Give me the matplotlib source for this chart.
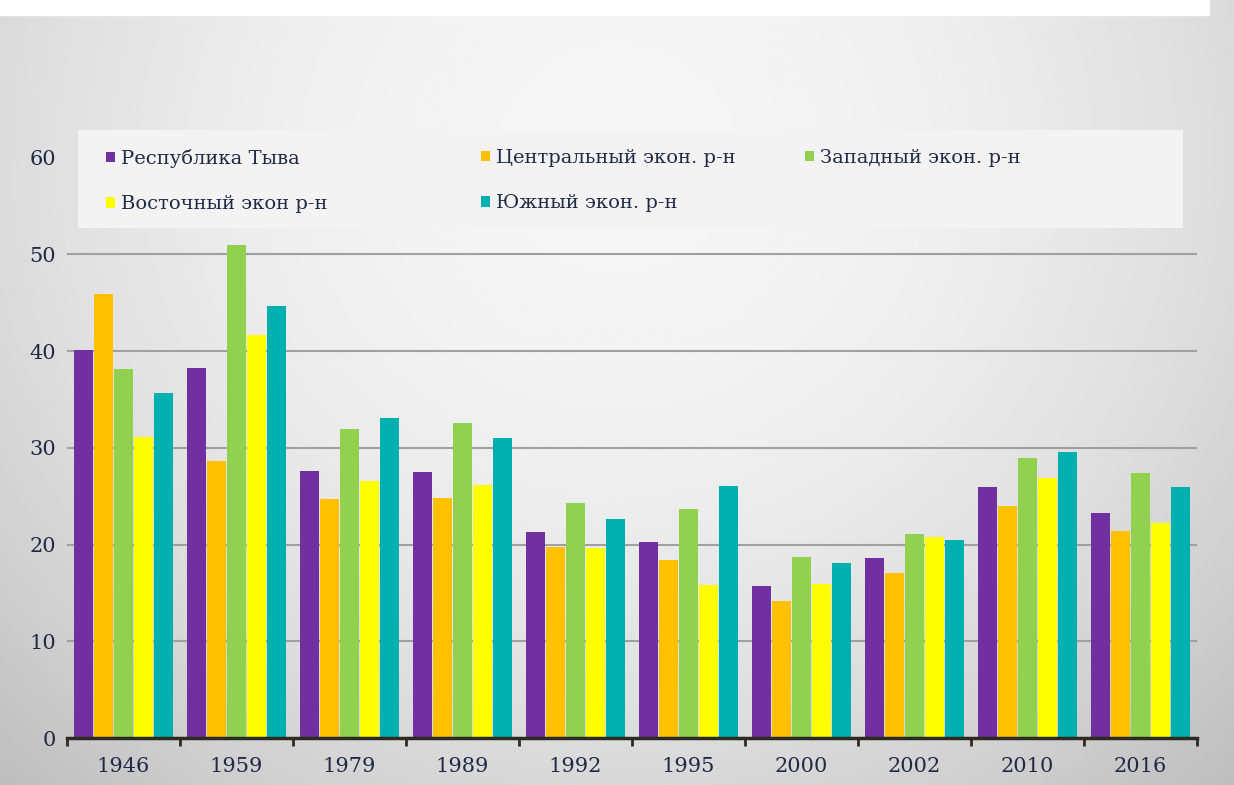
import numpy as np
import matplotlib
matplotlib.use('Agg')
import matplotlib.pyplot as plt
from matplotlib.patches import Rectangle

years = ['1946', '1959', '1979', '1989', '1992', '1995', '2000', '2002', '2010', '2016']
tyva = [40.1, 38.3, 27.6, 27.5, 21.3, 20.3, 15.7, 18.6, 26.0, 23.3]
central = [45.9, 28.6, 24.7, 24.8, 19.8, 18.4, 14.2, 17.1, 24.0, 21.4]
western = [38.2, 51.0, 32.0, 32.6, 24.3, 23.7, 18.7, 21.1, 29.0, 27.4]
eastern = [31.1, 41.7, 26.6, 26.2, 19.6, 15.8, 15.9, 20.8, 26.9, 22.2]
southern = [35.7, 44.7, 33.1, 31.0, 22.6, 26.1, 18.1, 20.5, 29.6, 26.0]

series = [
    ('Республика Тыва', tyva, '#7030A0'),
    ('Центральный экон. р-н', central, '#FFC000'),
    ('Западный экон. р-н', western, '#92D050'),
    ('Восточный экон р-н', eastern, '#FFFF00'),
    ('Южный экон. р-н', southern, '#00B0B0'),
]
y_ticks = [0, 10, 20, 30, 40, 50, 60]
grid_levels = [10, 20, 30, 40, 50]

plt.rcParams['font.family'] = ['DejaVu Serif']
text_color = '#1F2A44'

fig = plt.figure(figsize=(12.34, 7.85), dpi=100)

# radial grey background
bg = fig.add_axes([0, 0, 1, 1], zorder=-5)
yy, xx = np.mgrid[0:1:300j, 0:1:400j]
r2 = ((xx - 0.5) / 0.6) ** 2 + ((yy - 0.2) / 0.9) ** 2
v = np.clip(0.965 - 0.15 * r2, 0, 1)
bg.imshow(v, cmap='gray', vmin=0, vmax=1, aspect='auto', interpolation='bilinear',
          extent=[0, 1, 0, 1], origin='upper')
bg.axis('off')
fig.patches.append(Rectangle((0, 1 - 15 / 785), 0.98, 15 / 785, transform=fig.transFigure,
                             color='white', zorder=-4))

ax = fig.add_axes([67 / 1234, 1 - 738 / 785, 1130 / 1234, 628.6 / 785])
ax.patch.set_alpha(0)

x = np.arange(len(years))
pitch = 0.177
width = 0.164
bars = []
for i, (name, vals, color) in enumerate(series):
    b = ax.bar(x + (i - 2) * pitch, vals, width, color=color, label=name, zorder=3)
    bars.append(b)

ax.hlines(grid_levels, -0.5, len(years) - 0.5, color='#A0A0A0', linewidth=1.5, zorder=1)

ax.set_xlim(-0.5, len(years) - 0.5)
ax.set_ylim(0, 65)
ax.set_yticks(y_ticks)
ax.set_xticks(x)
ax.set_xticklabels(years)
ax.set_xticks(np.arange(-0.5, len(years)), minor=True)
ax.tick_params(axis='x', which='major', length=0, pad=14, labelsize=15, colors=text_color)
ax.tick_params(axis='x', which='minor', length=6, width=2, color='#2B2B20', direction='out')
ax.tick_params(axis='y', length=0, pad=8, labelsize=15, colors=text_color)
for s in ['top', 'right', 'left']:
    ax.spines[s].set_visible(False)
ax.spines['bottom'].set_color('#2B2B20')
ax.spines['bottom'].set_linewidth(2.5)
ax.spines['bottom'].set_zorder(4)

# legend panel
ax.add_patch(Rectangle((0.0097, 0.811), 0.978, 0.156, transform=ax.transAxes,
                       facecolor='#F3F3F3', edgecolor='none', zorder=5))


def col_x(px):
    return (px - 67) / 1130


columns = [([0, 3], col_x(106)), ([1, 4], col_x(481)), ([2], col_x(805))]
legends = []
for idx, x0 in columns:
    leg = ax.legend([bars[i] for i in idx], [series[i][0] for i in idx],
                    loc='upper left', bbox_to_anchor=(x0, 0.937), frameon=False,
                    fontsize=14, handlelength=0.45, handleheight=0.45, handletextpad=0.3,
                    labelspacing=1.41, borderpad=0, borderaxespad=0)
    leg.set_zorder(6)
    for t in leg.get_texts():
        t.set_color(text_color)
    legends.append(leg)
for leg in legends[:-1]:
    ax.add_artist(leg)

plt.savefig('out.png', dpi=100)
plt.close()
